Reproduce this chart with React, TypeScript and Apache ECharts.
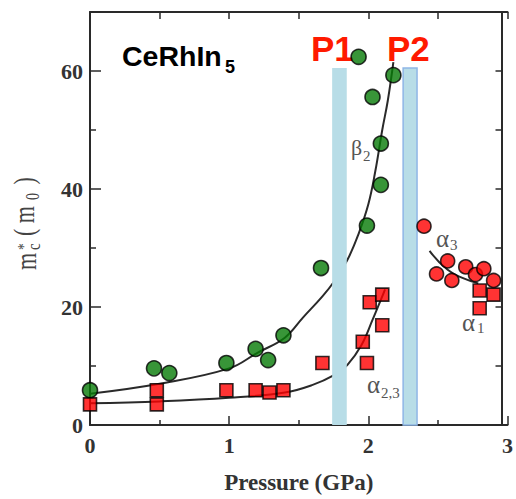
import React, { useEffect, useRef } from "react";
import * as echarts from "echarts";

// beta2 branch (green circles)
const beta2P = [0, 0.46, 0.57, 0.98, 1.19, 1.28, 1.39, 1.66, 1.93, 2.03, 1.99, 2.09, 2.09, 2.18];
const beta2M = [5.9, 9.6, 8.8, 10.5, 12.9, 11.0, 15.2, 26.6, 62.4, 55.6, 33.8, 47.7, 40.7, 59.3];

// alpha2,3 and alpha1 branches (red squares)
const alphaSqP = [0, 0.48, 0.48, 0.98, 1.19, 1.29, 1.39, 1.67, 1.96, 1.99, 2.01, 2.1, 2.1, 2.8, 2.9, 2.8];
const alphaSqM = [3.5, 5.9, 3.5, 5.9, 5.9, 5.5, 5.9, 10.5, 14.1, 10.5, 20.8, 22.1, 16.9, 22.8, 22.1, 19.8];

// alpha3 branch (red circles)
const alpha3P = [2.4, 2.57, 2.49, 2.6, 2.7, 2.77, 2.83, 2.9];
const alpha3M = [33.7, 27.8, 25.6, 24.5, 26.8, 25.5, 26.5, 24.5];

// guide curves
const beta2CurveP = [0, 0.5, 1.0, 1.2, 1.4, 1.53, 1.67, 1.75, 1.85, 1.93, 2.0, 2.05, 2.1, 2.14, 2.18];
const beta2CurveM = [5.3, 7.0, 9.6, 12.2, 14.8, 18.2, 21.8, 24.2, 28, 32.4, 37.4, 43, 50, 55, 61.5];
const alpha23CurveP = [0, 0.5, 1.0, 1.4, 1.6, 1.75, 1.85, 1.95, 2.03, 2.1, 2.12];
const alpha23CurveM = [3.7, 4.0, 4.6, 5.5, 6.8, 8.4, 10.2, 13.5, 17.8, 21.8, 23];
const alpha1CurveP = [2.44, 2.57, 2.69, 2.79];
const alpha1CurveM = [29.5, 26.3, 24.8, 24.0];

// pressure bands P1, P2
const bandStart = [1.74, 2.25];
const bandEnd = [1.845, 2.35];
const bandTop = [60.5, 60.5];
const bandBorder = [0, 1];
const bandLabels = ["P1", "P2"];

const xTickLabels = ["0", "1", "2", "3"];
const yTickLabels = ["0", "20", "40", "60"];

const zip = (a: number[], b: number[]) => a.map((v, i) => [v, b[i]]);

const serif = "'Liberation Serif', 'DejaVu Serif', serif";
const sans = "'Liberation Sans', Arial, sans-serif";
const ink = "#2a2a2a";

export default function App() {
  const ref = useRef<HTMLDivElement>(null);
  useEffect(() => {
    const chart = echarts.init(ref.current!, null, { renderer: "svg" });
    const tickStyle = { color: ink, width: 1.5 };
    const labelStyle = { fontFamily: serif, fontSize: 22, fontWeight: "bold" as const, color: "#333" };
    const option: any = {
      animation: false,
      backgroundColor: "#fff",
      grid: { left: 90, top: 12, width: 424, bottom: 69, containLabel: false },
      xAxis: [
        {
          type: "value",
          min: 0,
          max: 3,
          interval: 1,
          position: "bottom",
          axisLine: { show: true, onZero: false, lineStyle: { color: ink, width: 2 } },
          axisTick: { show: true, inside: true, length: 9, lineStyle: tickStyle },
          minorTick: { show: true, splitNumber: 2, length: 5, lineStyle: tickStyle },
          splitLine: { show: false },
          minorSplitLine: { show: false },
          axisLabel: {
            ...labelStyle,
            margin: 9,
            formatter: (v: number) => xTickLabels[Math.round(v)] ?? "",
          },
          name: "Pressure (GPa)",
          nameLocation: "middle",
          nameGap: 46,
          nameTextStyle: { fontFamily: serif, fontSize: 23, fontWeight: "bold", color: "#333" },
        },
        {
          type: "value",
          min: 0,
          max: 3,
          interval: 0.5,
          position: "top",
          axisLine: { show: true, onZero: false, lineStyle: { color: ink, width: 2 } },
          axisTick: { show: true, inside: true, length: 7, lineStyle: tickStyle },
          splitLine: { show: false },
          axisLabel: { show: false },
        },
      ],
      yAxis: [
        {
          type: "value",
          min: 0,
          max: 70,
          interval: 20,
          position: "left",
          axisLine: { show: true, onZero: false, lineStyle: { color: ink, width: 2 } },
          axisTick: { show: true, inside: true, length: 11, lineStyle: tickStyle },
          minorTick: { show: true, splitNumber: 2, length: 6, lineStyle: tickStyle },
          splitLine: { show: false },
          minorSplitLine: { show: false },
          axisLabel: {
            ...labelStyle,
            margin: 7,
            showMaxLabel: false,
            formatter: (v: number) => yTickLabels[Math.round(v / 20)] ?? "",
          },
        },
        {
          type: "value",
          min: 0,
          max: 70,
          interval: 10,
          position: "right",
          offset: -6,
          axisLine: { show: true, onZero: false, lineStyle: { color: ink, width: 2 } },
          axisTick: { show: true, inside: true, length: 6, lineStyle: tickStyle },
          splitLine: { show: false },
          axisLabel: { show: false },
        },
      ],
      series: [
        {
          type: "line",
          data: zip(beta2CurveP, beta2CurveM),
          smooth: 0.4,
          symbol: "none",
          lineStyle: { color: ink, width: 2 },
          z: 2,
        },
        {
          type: "line",
          data: zip(alpha23CurveP, alpha23CurveM),
          smooth: 0.4,
          symbol: "none",
          lineStyle: { color: ink, width: 2 },
          z: 2,
        },
        {
          type: "line",
          data: zip(alpha1CurveP, alpha1CurveM),
          smooth: 0.5,
          symbol: "none",
          lineStyle: { color: ink, width: 2 },
          z: 2,
        },
        {
          type: "custom",
          z: 3,
          clip: false,
          data: bandStart.map((s, i) => [s, bandEnd[i], bandTop[i], bandBorder[i]]),
          renderItem: (params: any, api: any) => {
            const p0 = api.coord([api.value(0), api.value(2)]);
            const p1 = api.coord([api.value(1), 0]);
            const border = api.value(3) === 1;
            return {
              type: "rect",
              shape: { x: p0[0], y: p0[1], width: p1[0] - p0[0], height: p1[1] - p0[1] },
              style: {
                fill: "#b8dde7",
                stroke: border ? "#8fb6e6" : null,
                lineWidth: border ? 1.5 : 0,
              },
            };
          },
        },
        {
          type: "scatter",
          data: zip(beta2P, beta2M),
          symbol: "circle",
          symbolSize: 15,
          itemStyle: { color: "#067a06", borderColor: "#000", borderWidth: 1.6 },
          z: 5,
        },
        {
          type: "scatter",
          data: zip(alphaSqP, alphaSqM),
          symbol: "rect",
          symbolSize: 13,
          itemStyle: { color: "#ff0000", borderColor: "#000", borderWidth: 1.6 },
          z: 5,
        },
        {
          type: "scatter",
          data: zip(alpha3P, alpha3M),
          symbol: "circle",
          symbolSize: 14,
          itemStyle: { color: "#ff0000", borderColor: "#000", borderWidth: 1.6 },
          z: 5,
        },
      ],
      graphic: [
        // compound name
        { type: "text", left: 122, top: 41, style: { text: "CeRhIn", font: `bold 28.5px ${sans}`, fill: "#000" } },
        { type: "text", left: 225, top: 58, style: { text: "5", font: `bold 18px ${sans}`, fill: "#000" } },
        // P1 / P2
        { type: "text", left: 311, top: 31, style: { text: bandLabels[0], font: `bold 35px ${sans}`, fill: "#ff1a00" } },
        { type: "text", left: 387, top: 31, style: { text: bandLabels[1], font: `bold 35px ${sans}`, fill: "#ff1a00" } },
        // branch labels
        { type: "text", left: 351, top: 136, style: { text: "β", font: `22px ${serif}`, fill: "#555" } },
        { type: "text", left: 363, top: 148, style: { text: "2", font: `15px ${serif}`, fill: "#555" } },
        { type: "text", left: 367, top: 372, z: 1, style: { text: "α", font: `25px ${serif}`, fill: "#555" } },
        { type: "text", left: 381, top: 385, z: 1, style: { text: "2,3", font: `15px ${serif}`, fill: "#555" } },
        { type: "text", left: 436, top: 226, style: { text: "α", font: `25px ${serif}`, fill: "#555" } },
        { type: "text", left: 450, top: 237, style: { text: "3", font: `15px ${serif}`, fill: "#555" } },
        { type: "text", left: 462, top: 310, style: { text: "α", font: `25px ${serif}`, fill: "#555" } },
        { type: "text", left: 477, top: 320, style: { text: "1", font: `15px ${serif}`, fill: "#555" } },
        // y axis title, rotated
        {
          type: "group",
          x: 26,
          y: 222,
          rotation: Math.PI / 2,
          scaleY: 1.3,
          children: [
            { type: "text", x: -48, y: 0, style: { text: "m", font: `22px ${serif}`, fill: "#444", verticalAlign: "middle" } },
            { type: "text", x: -28, y: -2, style: { text: "*", font: `13px ${serif}`, fill: "#444", verticalAlign: "middle" } },
            { type: "text", x: -28, y: 6, style: { text: "c", font: `15px ${serif}`, fill: "#444", verticalAlign: "middle" } },
            { type: "text", x: -14, y: -1, style: { text: "( m", font: `22px ${serif}`, fill: "#444", verticalAlign: "middle" } },
            { type: "text", x: 22, y: 6, style: { text: "0", font: `14px ${serif}`, fill: "#444", verticalAlign: "middle" } },
            { type: "text", x: 32, y: -1, style: { text: " )", font: `22px ${serif}`, fill: "#444", verticalAlign: "middle" } },
          ],
        },
      ],
    };
    chart.setOption(option);
    return () => chart.dispose();
  }, []);
  return (
    <div
      ref={ref}
      style={{ position: "absolute", left: 0, top: 0, width: 516, height: 499 }}
    />
  );
}
